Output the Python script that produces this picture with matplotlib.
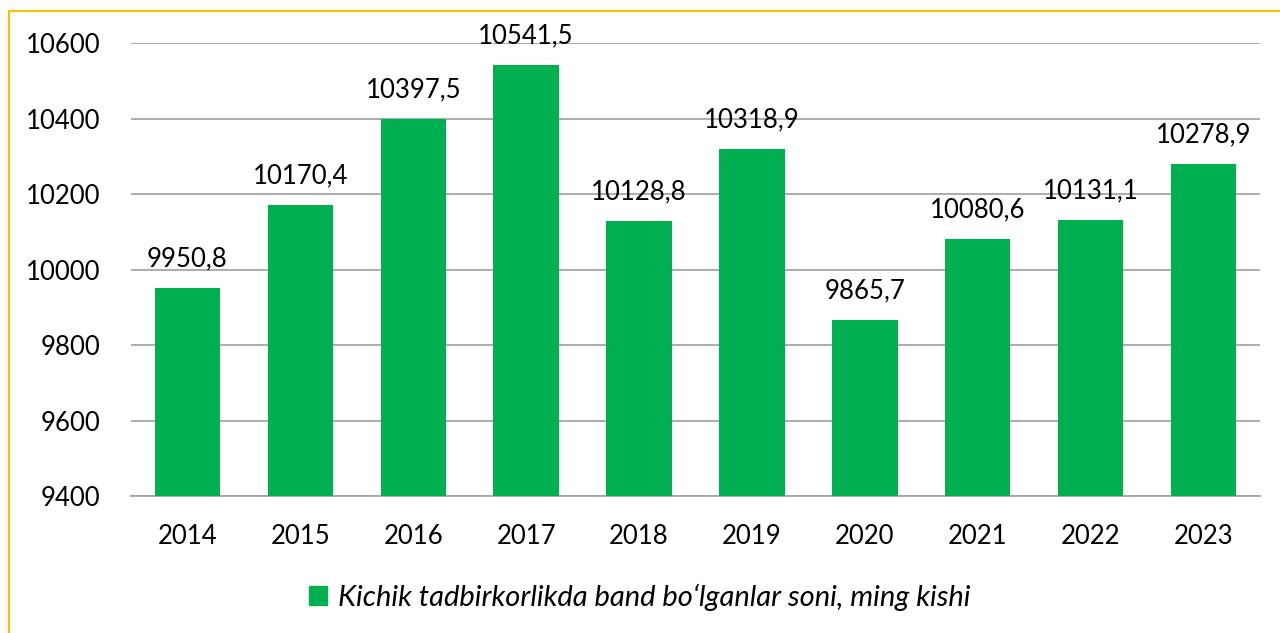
import numpy as np
import matplotlib.pyplot as plt
from matplotlib.patches import Rectangle
from matplotlib.lines import Line2D

years = ['2014', '2015', '2016', '2017', '2018', '2019', '2020', '2021', '2022', '2023']
values = [9950.8, 10170.4, 10397.5, 10541.5, 10128.8, 10318.9, 9865.7, 10080.6, 10131.1, 10278.9]
yticks = [9400, 9600, 9800, 10000, 10200, 10400, 10600]
legend_label = 'Kichik tadbirkorlikda band bo\u2018lganlar soni, ming kishi'

green = '#00B050'

plt.rcParams['font.family'] = ['Lato', 'DejaVu Sans']

fig = plt.figure(figsize=(12.8, 6.33), dpi=100)
ax = fig.add_axes([131 / 1280, 1 - 496 / 633, (1260 - 131) / 1280, (496 - 43) / 633])

x = np.arange(len(years))
ax.bar(x, values, width=0.58, color=green, zorder=3)
for xi, v in zip(x, values):
    ax.annotate(('%.1f' % v).replace('.', ','), (xi, v), xytext=(0, 12),
                textcoords='offset points', ha='center', va='bottom', fontsize=18.5)

ax.set_ylim(9400, 10600)
ax.set_xlim(-0.5, len(years) - 0.5)
ax.set_yticks(yticks)
ax.set_xticks(x)
ax.set_xticklabels(years)
ax.tick_params(axis='both', length=0, labelsize=18.5)
ax.tick_params(axis='y', pad=22)
ax.tick_params(axis='x', pad=20)
ax.grid(axis='y', color='#A6A6A6', linewidth=1.3, zorder=0)
for s in ['top', 'right', 'left']:
    ax.spines[s].set_visible(False)
ax.spines['bottom'].set_color('#A6A6A6')
ax.spines['bottom'].set_linewidth(1.3)

# legend
fig.legend([Rectangle((0, 0), 1, 1, color=green)], [legend_label],
           loc='center', bbox_to_anchor=(0.5, 1 - 597 / 633), frameon=False,
           prop={'size': 21, 'style': 'italic'}, handlelength=0.6, handleheight=0.6,
           handletextpad=0.4)

# yellow frame (top and left)
fig.add_artist(Line2D([8.5 / 1280, 8.5 / 1280], [0, 1 - 10.5 / 633], color='#FFC000',
                      linewidth=1.5, transform=fig.transFigure))
fig.add_artist(Line2D([8.5 / 1280, 1], [1 - 10.5 / 633, 1 - 10.5 / 633], color='#FFC000',
                      linewidth=1.5, transform=fig.transFigure))

fig.savefig('out.png', dpi=100)
